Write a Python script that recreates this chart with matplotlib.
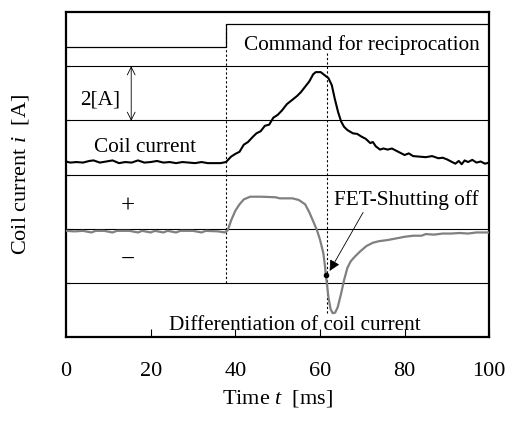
import matplotlib
matplotlib.use('Agg')
import matplotlib.pyplot as plt

plt.rcParams['font.family'] = ['Liberation Serif', 'DejaVu Serif']
plt.rcParams['mathtext.fontset'] = 'custom'
plt.rcParams['mathtext.it'] = 'Liberation Serif:italic'
plt.rcParams['mathtext.rm'] = 'Liberation Serif'

# command signal (low -> high at ~37.8 ms)
cmd_t = [0, 37.8, 37.8, 100]
cmd_v = [5.35, 5.35, 5.77, 5.77]

# coil current (in grid units, 1 division = 2 A)
coil_t = [0, 1, 2.5, 4, 5.5, 6.5, 8, 9.5, 11, 12.5, 14, 15.5, 17, 18.5, 20,
          21.5, 23, 24.5, 26, 27.5, 29, 30.5, 32, 33.5, 35, 36.5, 37.8,
          39, 40, 41, 42, 43, 44.2, 45, 46, 47, 48, 49, 50, 51, 52.2, 53.5,
          54.6, 55.5, 56.5, 57.5, 58.4, 59, 60.2, 61, 62, 62.8, 63.5, 64.3,
          65, 65.7, 66.5, 67.8, 68.8, 69.8, 70.8, 71.9, 72.5, 73.2, 74.2, 75,
          76, 77, 78, 79, 80, 81, 82, 83.5, 85, 86.5, 88, 89, 90, 91, 92,
          92.8, 93.5, 94.2, 95, 96, 97, 98, 99, 100]
coil_i = [3.24, 3.22, 3.23, 3.22, 3.25, 3.26, 3.22, 3.24, 3.26, 3.21, 3.23,
          3.22, 3.26, 3.22, 3.23, 3.25, 3.22, 3.23, 3.21, 3.23, 3.22, 3.21,
          3.23, 3.21, 3.21, 3.21, 3.23,
          3.33, 3.38, 3.42, 3.55, 3.60, 3.70, 3.76, 3.80, 3.90, 3.92, 4.05,
          4.10, 4.18, 4.30, 4.38, 4.45, 4.52, 4.62, 4.72, 4.85, 4.89, 4.89,
          4.84, 4.78, 4.65, 4.40, 4.15, 3.98, 3.88, 3.82, 3.76, 3.75, 3.70,
          3.66, 3.58, 3.60, 3.52, 3.46, 3.48, 3.46, 3.48, 3.44, 3.40, 3.36,
          3.39, 3.34, 3.33, 3.32, 3.34, 3.30, 3.31, 3.28, 3.24, 3.20, 3.25,
          3.19, 3.26, 3.23, 3.27, 3.22, 3.24, 3.20, 3.22]

# differentiation of coil current
diff_t = [0, 2, 4, 6, 7, 9, 11, 12, 15, 17, 18, 20, 21, 23, 24, 26, 27, 30,
          32, 33, 36, 37.5, 38.2, 39, 40, 41, 42, 43.5, 46, 49.5, 50.5, 53.5,
          55, 56.5, 57.5, 58.5, 59.3, 60, 60.8, 61.2, 61.4, 61.7, 62, 62.5,
          63, 63.6, 64.2, 65, 65.7, 66.5, 67.3, 68.2, 69.5, 71, 72.5, 74, 76,
          78, 80, 82, 84, 85, 87, 89, 91, 93, 95, 97, 100]
diff_v = [1.96, 1.95, 1.96, 1.93, 1.96, 1.96, 1.93, 1.96, 1.96, 1.93, 1.96,
          1.93, 1.96, 1.93, 1.96, 1.93, 1.96, 1.96, 1.93, 1.96, 1.95, 1.93,
          1.97, 2.15, 2.33, 2.45, 2.54, 2.59, 2.59, 2.58, 2.56, 2.56, 2.53,
          2.45, 2.30, 2.12, 1.97, 1.80, 1.55, 1.30, 1.14, 0.95, 0.74, 0.52,
          0.44, 0.45, 0.55, 0.80, 1.05, 1.28, 1.40, 1.48, 1.58, 1.68, 1.74,
          1.77, 1.79, 1.82, 1.85, 1.87, 1.87, 1.90, 1.89, 1.91, 1.91, 1.92,
          1.91, 1.93, 1.93]

x_ticks = [0, 20, 40, 60, 80, 100]
grid_levels = [1, 2, 3, 4, 5]

fig = plt.figure(figsize=(5.08, 4.21), dpi=100)
ax = fig.add_axes([0.130, 0.1995, 0.833, 0.772])

for g in grid_levels:
    ax.axhline(g, color='black', lw=0.8, zorder=1)

ax.plot(cmd_t, cmd_v, color='black', lw=0.9, zorder=2)
ax.plot([37.8, 37.8], [1.0, 5.77], color='black', lw=0.8, ls=(0, (2, 2)), zorder=2)
ax.plot([61.6, 61.6], [0.44, 5.24], color='black', lw=0.8, ls=(0, (2, 2)), zorder=2)

ax.plot(coil_t, coil_i, color='black', lw=1.5, zorder=3)
ax.plot(diff_t, diff_v, color='#808080', lw=1.6, zorder=3)
ax.plot([61.4], [1.14], 'o', color='black', ms=3, zorder=4)

ax.annotate('', xy=(15.4, 3.99), xytext=(15.4, 5.0),
            arrowprops=dict(arrowstyle='<->', lw=0.6, color='black',
                            shrinkA=0, shrinkB=0, mutation_scale=14))
ax.annotate('', xy=(62.3, 1.22), xytext=(70.2, 2.30),
            arrowprops=dict(arrowstyle='-|>', lw=0.6, color='black',
                            shrinkA=0, shrinkB=0, mutation_scale=16))

fs = 15.3
ax.text(8.0, 4.37, '2[A]', ha='center', va='center', fontsize=fs)
ax.text(18.7, 3.5, 'Coil current', ha='center', va='center', fontsize=fs)
ax.text(69.9, 5.39, 'Command for reciprocation', ha='center', va='center', fontsize=fs)
ax.text(14.7, 2.4, '+', ha='center', va='center', fontsize=18)
ax.text(14.7, 1.42, '\u2212', ha='center', va='center', fontsize=18)
ax.text(80.5, 2.52, 'FET-Shutting off', ha='center', va='center', fontsize=fs)
ax.text(54.0, 0.22, 'Differentiation of coil current', ha='center', va='center', fontsize=fs)

ax.set_xlim(0, 100)
ax.set_ylim(0, 6)
ax.set_xticks(x_ticks)
ax.set_yticks(grid_levels)
ax.set_yticklabels([])
ax.tick_params(axis='x', direction='in', length=6, width=0.8, labelsize=16, pad=18)
ax.tick_params(axis='y', direction='in', length=3, width=0.8)
for s in ax.spines.values():
    s.set_linewidth(1.6)

ax.set_xlabel('Time $t$  [ms]', fontsize=16, labelpad=5)
ax.set_ylabel('Coil current $i$  [A]', fontsize=16, labelpad=22)

fig.savefig('out.png', dpi=100)
